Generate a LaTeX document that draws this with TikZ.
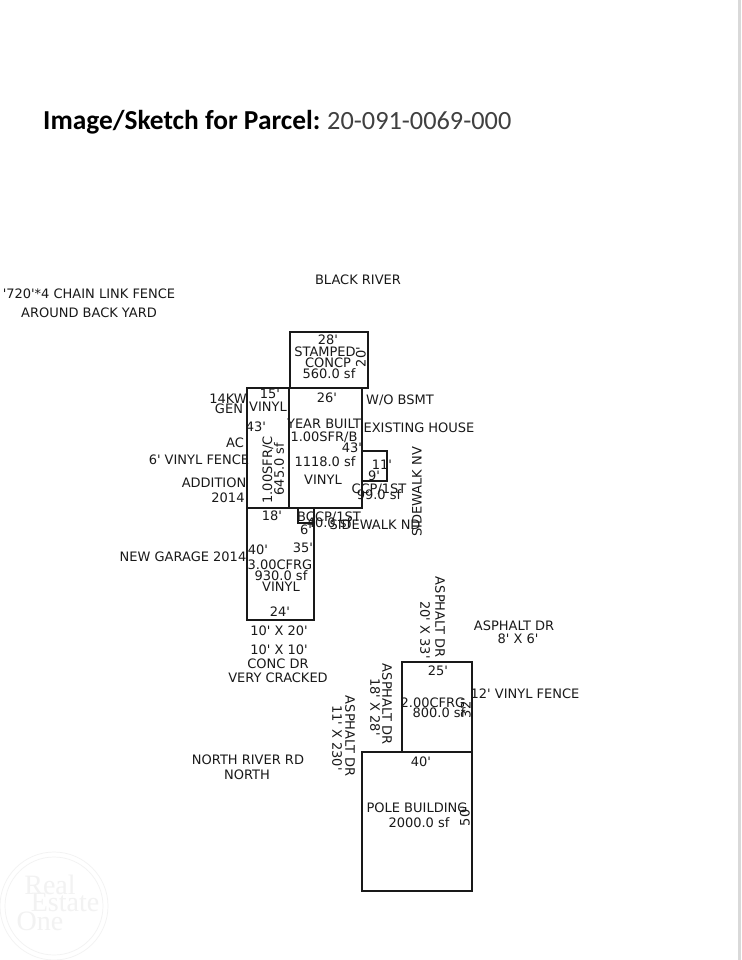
\documentclass[tikz,border=0pt]{standalone}
\usepackage{fontspec}
\newfontfamily\lblfont{DejaVu Sans}
\newfontfamily\titlefont{Carlito}
\newfontfamily\wmfont{Liberation Serif}
\definecolor{ink}{gray}{0.1}
\definecolor{wm}{gray}{0.95}
\tikzset{
 lbl/.style={inner sep=0pt,text=ink,font=\fontsize{13}{13}\selectfont\lblfont,anchor=center,yshift=-0.8pt},
 up/.style={inner sep=0pt,text=ink,font=\fontsize{13}{13}\selectfont\lblfont,anchor=center,rotate=90},
 down/.style={inner sep=0pt,text=ink,font=\fontsize{13}{13}\selectfont\lblfont,anchor=center,rotate=-90},
 room/.style={draw=ink,line width=1.6pt},
 wmring/.style={draw=wm,line width=0.7pt},
 wmtext/.style={inner sep=0pt,text=wm,font=\fontsize{28}{28}\selectfont\wmfont},
}
\begin{document}
\begin{tikzpicture}[x=1pt,y=-1pt]
\useasboundingbox[fill=white] (0,0) rectangle (741,960);
% watermark
\draw[wmring] (54,906) circle (54);
\draw[wmring] (54,906) circle (49);
\node[wmtext] (wm1) at (50,885) {Real};
\node[wmtext] (wm2) at (65,902) {Estate};
\node[wmtext] (wm3) at (40,921) {One};
% page edge
\fill[gray!30] (738,0) rectangle (741,960);
% title
\node[inner sep=0pt,anchor=base west,text=black,font=\fontsize{27.4}{27.4}\selectfont\titlefont\bfseries] (title) at (43,130) {Image/Sketch for Parcel:};
\node[inner sep=0pt,anchor=base west,text=black!75,font=\fontsize{26.3}{26.3}\selectfont\titlefont] (parcel) at (327,130) {20-091-0069-000};
% rooms
\draw[room] (290,332) rectangle (368,388);
\draw[room] (247,388) rectangle (289,508);
\draw[room] (289,388) rectangle (362,508);
\draw[room] (362,451) rectangle (387,481);
\draw[room] (247,508) rectangle (314,620);
\draw[room] (298,508) rectangle (314,523);
\draw[room] (402,662) rectangle (472,752);
\draw[room] (362,752) rectangle (472,891);
% outer notes
\node[lbl] (river) at (358,279) {BLACK RIVER};
\node[lbl] (fence1) at (89,293) {'720'*4 CHAIN LINK FENCE};
\node[lbl] (fence2) at (89,312) {AROUND BACK YARD};
\node[lbl] (kw) at (228,398) {14KW};
\node[lbl] (gen) at (229,408) {GEN};
\node[lbl] (ac) at (235,442) {AC};
\node[lbl] (vf) at (199,459) {6' VINYL FENCE};
\node[lbl] (add) at (214,482) {ADDITION};
\node[lbl] (y14) at (228,497) {2014};
\node[lbl] (ng) at (183,556) {NEW GARAGE 2014};
\node[lbl] (bsmt) at (400,399) {W/O BSMT};
\node[lbl] (ex) at (419,427) {EXISTING HOUSE};
\node[up] (swnv) at (417,492) {SIDEWALK NV};
\node[lbl] (swnd) at (375,524) {SIDEWALK ND};
% stamped
\node[lbl] (s1) at (328,339) {28'};
\node[lbl] (s2) at (325,351) {STAMPED};
\node[lbl] (s3) at (328,362) {CONCP};
\node[lbl] (s4) at (329,373) {560.0 sf};
\node[up] (s5) at (361,357) {20'};
% C
\node[lbl] (c1) at (270,393) {15'};
\node[lbl] (c2) at (268,406) {VINYL};
\node[lbl] (c3) at (256,426) {43'};
\node[up] (c4) at (268,470) {1.00SFR/C};
\node[up] (c5) at (279,469) {645.0 sf};
% B
\node[lbl] (b1) at (327,397) {26'};
\node[lbl] (b2) at (324,423) {YEAR BUILT};
\node[lbl] (b3) at (324,436) {1.00SFR/B};
\node[lbl] (b4) at (352,447) {43'};
\node[lbl] (b5) at (325,461) {1118.0 sf};
\node[lbl] (b6) at (323,479) {VINYL};
% CCP
\node[lbl] (p1) at (382,464) {11'};
\node[lbl] (p2) at (374,475) {9'};
\node[lbl] (p3) at (379,488) {CCP/1ST};
\node[lbl] (p4) at (379,494) {99.0 sf};
% small porch
\node[lbl] (q1) at (329,516) {BCCP/1ST};
\node[lbl] (q2) at (329,522) {40.0 sf};
\node[lbl] (q3) at (306,529) {6'};
% garage
\node[lbl] (g1) at (272,515) {18'};
\node[lbl] (g2) at (258,549) {40'};
\node[lbl] (g3) at (303,547) {35'};
\node[lbl] (g4) at (280,564) {3.00CFRG};
\node[lbl] (g5) at (281,575) {930.0 sf};
\node[lbl] (g6) at (281,586) {VINYL};
\node[lbl] (g7) at (280,611) {24'};
% drive notes
\node[lbl] (d1) at (279,630) {10' X 20'};
\node[lbl] (d2) at (279,649) {10' X 10'};
\node[lbl] (d3) at (278,663) {CONC DR};
\node[lbl] (d4) at (278,677) {VERY CRACKED};
\node[lbl] (nr1) at (248,759) {NORTH RIVER RD};
\node[lbl] (nr2) at (247,774) {NORTH};
% asphalt
\node[down] (a1) at (440,617) {ASPHALT DR};
\node[down] (a2) at (425,630) {20' X 33'};
\node[lbl] (a3) at (514,625) {ASPHALT DR};
\node[lbl] (a4) at (518,638) {8' X 6'};
\node[down] (a5) at (387,704) {ASPHALT DR};
\node[down] (a6) at (375,707) {18' X 28'};
\node[down] (a7) at (350,736) {ASPHALT DR};
\node[down] (a8) at (337,738) {11' X 230'};
\node[lbl] (a9) at (525,693) {12' VINYL FENCE};
% garage 2
\node[lbl] (h1) at (438,670) {25'};
\node[lbl] (h2) at (433,702) {2.00CFRG};
\node[lbl] (h3) at (439,712) {800.0 sf};
\node[up] (h4) at (466,708) {32'};
% pole
\node[lbl] (k1) at (421,761) {40'};
\node[lbl] (k2) at (417,807) {POLE BUILDING};
\node[lbl] (k3) at (419,822) {2000.0 sf};
\node[up] (k4) at (465,816) {50'};
\end{tikzpicture}
\end{document}
